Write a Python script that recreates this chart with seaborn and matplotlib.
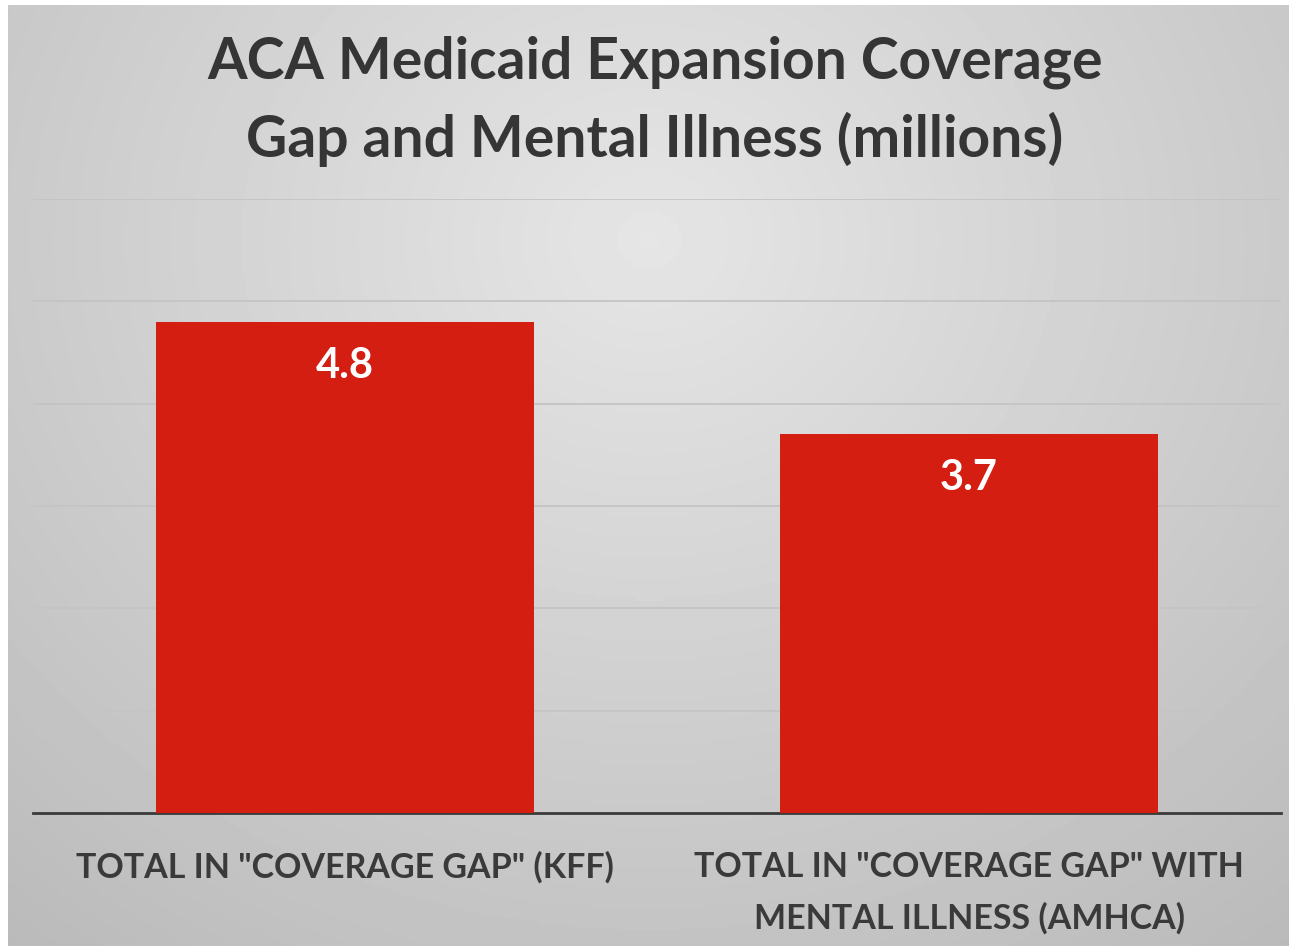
import numpy as np
import pandas as pd
import seaborn as sns
import matplotlib.pyplot as plt

categories = ['TOTAL IN "COVERAGE GAP" (KFF)',
              'TOTAL IN "COVERAGE GAP" WITH\nMENTAL ILLNESS (AMHCA)']
values = [4.8, 3.7]
value_labels = ['4.8', '3.7']
title = 'ACA Medicaid Expansion Coverage\nGap and Mental Illness (millions)'

df = pd.DataFrame({'category': categories, 'value': values})

sns.set_style('white')
plt.rcParams['font.family'] = ['Lato', 'DejaVu Sans']

fig = plt.figure(figsize=(12.89, 9.46), dpi=100)

# radial gray background
bg = fig.add_axes([0.006, 0, 0.994, 0.995])
yy, xx = np.mgrid[0:1:300j, 0:1:400j]
r = np.sqrt(((xx - 0.5) / 0.75) ** 2 + ((yy - 0.25) / 0.9) ** 2)
bg.imshow(0.90 - 0.16 * r, cmap='gray', vmin=0, vmax=1, aspect='auto',
          extent=[0, 1, 1, 0])
bg.axis('off')

ax = fig.add_axes([33 / 1289, 1 - 813 / 946, 1248 / 1289, (813 - 199) / 946])
ax.patch.set_alpha(0)
sns.barplot(data=df, x='category', y='value', color='#d41e12', saturation=1,
            width=0.606, linewidth=0, ax=ax, zorder=3)
ax.set_ylim(0, 6)
ax.set_yticks(range(0, 7))
ax.yaxis.grid(True, color='#c4c4c4', linewidth=1.3, zorder=0)
ax.set_yticklabels([])
ax.tick_params(left=False, bottom=False)
for s in ['top', 'right', 'left']:
    ax.spines[s].set_visible(False)
ax.spines['bottom'].set_color('#3a3a3a')
ax.spines['bottom'].set_linewidth(2)
ax.set_xlabel('')
ax.set_ylabel('')
ax.set_xticks(range(len(categories)))
ax.set_xticklabels(categories, fontsize=24.5, fontweight='bold', color='#3a3a3a',
                   linespacing=1.7)
ax.tick_params(axis='x', pad=24)

for i, (v, lab) in enumerate(zip(values, value_labels)):
    ax.text(i, v - 0.43, lab, ha='center', va='center', color='white',
            fontsize=30, fontweight='bold', zorder=4)

fig.text(0.508, 0.893, title, ha='center', va='center', fontsize=41,
         fontweight='bold', color='#353535', linespacing=1.5)

fig.savefig('out.png', dpi=100)
